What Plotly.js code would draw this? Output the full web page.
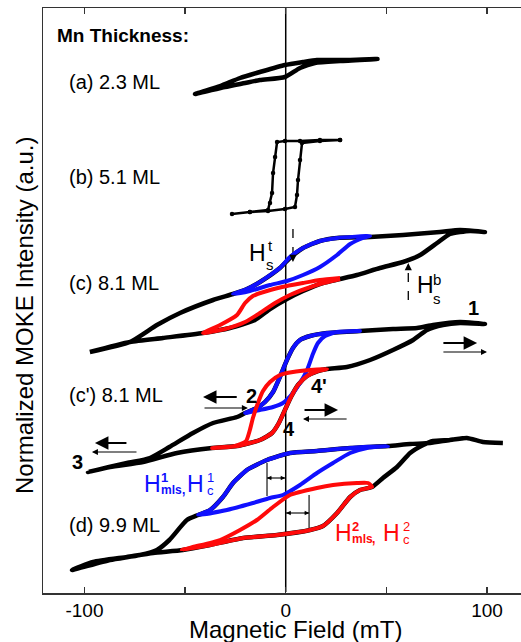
<!DOCTYPE html>
<html>
<head>
<meta charset="utf-8">
<script src="https://cdn.plot.ly/plotly-3.0.1.min.js"></script>
<style>html,body{margin:0;padding:0;background:#fff;}#chart{width:521px;height:642px;}</style>
</head>
<body>
<div id="chart"></div>
<script>
// ---- Data: Magnetic field (mT) vs normalized MOKE intensity (a.u., offset per sample) ----
// (a) 2.3 ML
const a_x = [45.6, 32.0, 15.5, 8.6, -0.4, -12.8, -22.7, -32.6, -45.1, -30.2, -20.2, -12.8, -0.4, 7.1, 14.5, 27.0, 45.6];
const a_y = [534, 533, 533, 531, 528, 521, 515, 507, 499, 506, 510, 513, 516, 525, 530, 532, 534];
// (b) 5.1 ML
const b_x = [27.0, 17.0, 7.1, -0.4, -4.3, -5.3, -6.3, -6.8, -7.8, -8.8, -17.8, -26.7, -17.8, -8.8, -0.4, 4.6, 5.6, 6.1, 7.1, 8.1, 17.0, 27.0];
const b_y = [453, 453, 452, 452, 451, 436, 420, 400, 390, 383, 381, 379, 381, 382, 384, 386, 398, 413, 433, 450, 452, 453];
// (c) 8.1 ML – full loop (black)
const c_x = [99.0, 86.6, 76.6, 58.3, 41.9, 25.5, 17.0, 8.6, 2.1, -2.9, -12.8, -19.3, -26.2, -36.1, -52.5, -64.0, -77.4, -97.3,
             -77.4, -61.0, -41.1, -27.7, -15.3, -7.8, 0.6, 8.6, 18.5, 27.0, 35.4, 46.8, 58.3, 66.8, 75.2, 81.6, 91.6, 99.0];
const c_y = [361, 363, 361, 358, 356, 355, 352, 345, 335, 325, 311, 304, 299, 293, 280, 268, 251, 241,
             251, 255, 260, 265, 273, 284, 294, 302, 310, 314, 318, 325, 331, 338, 350, 359, 362, 361];
// (c) minor loops
const cBlue_x = [41.9, 25.5, 17.0, 8.6, 2.1, -2.9, -12.8, -19.3, -26.2, -17.8, -7.8, 0.6, 8.6, 17.0, 25.5, 32.0, 38.4, 41.9];
const cBlue_y = [357, 355, 352, 345, 336, 325, 311, 304, 299, 302, 308, 312, 318, 326, 338, 349, 355, 357];
const cRed_x = [27.0, 17.0, 8.6, 0.6, -9.3, -16.3, -20.2, -24.2, -32.6, -41.1, -30.2, -20.2, -12.8, -5.3, 2.1, 9.6, 17.0, 27.0];
const cRed_y = [315, 313, 310, 307, 302, 297, 290, 278, 268, 260, 264, 271, 280, 290, 298, 304, 309, 314];
// (c') 8.1 ML – full loop (black)
const cp_x = [99.0, 86.6, 73.2, 65.3, 53.3, 36.9, 20.5, 12.1, 7.1, 3.6, 0.6, -2.9, -6.3, -10.3, -14.3, -20.2, -24.2, -36.1, -46.1, -57.8, -67.5, -78.9, -98.3,
              -87.3, -70.9, -54.0, -36.6, -24.2, -12.8, -6.8, -3.4, -0.4, 2.6, 6.1, 10.6, 16.0, 20.5, 30.4, 41.9, 53.3, 63.3, 70.2, 78.1, 86.6, 99.0];
const cp_y = [269, 271, 268, 265, 264, 262, 260, 257, 253, 245, 233, 216, 201, 191, 185, 180, 176, 170, 160, 146, 135, 130, 121,
              126, 131, 140, 145, 147, 153, 160, 170, 183, 196, 208, 217, 222, 224, 226, 233, 243, 253, 263, 268, 270, 269];
// (c') minor loops
const cpBlue_x = [36.9, 20.5, 12.1, 7.1, 3.6, 0.6, -2.9, -6.3, -10.3, -14.3, -20.2, -12.8, -6.3, -1.4, 3.6, 7.1, 10.6, 13.5, 16.0, 19.5, 25.5, 36.9];
const cpBlue_y = [262, 260, 257, 253, 245, 233, 216, 201, 191, 185, 180, 183, 186, 190, 200, 210, 223, 239, 250, 257, 261, 262];
const cpRed_x = [20.5, 12.1, 3.6, -2.9, -7.8, -11.3, -13.8, -16.3, -17.8, -19.7, -25.2, -36.6, -24.2, -12.8, -6.8, -3.4, -0.4, 2.6, 6.1, 10.6, 16.0, 20.5];
const cpRed_y = [224, 223, 221, 218, 211, 202, 190, 175, 163, 152, 147, 145, 147, 153, 160, 170, 183, 196, 208, 217, 222, 224];
// (d) 9.9 ML – full loop (black)
const d_x = [107.9, 98.0, 90.0, 81.6, 71.7, 61.8, 50.8, 32.0, 15.5, 2.1, -9.3, -19.3, -26.2, -31.2, -37.6, -43.5, -49.1, -57.8, -64.0, -72.4, -87.3, -106.2,
             -95.7, -78.9, -65.9, -51.1, -37.6, -21.2, -4.3, 12.1, 18.5, 25.5, 32.0, 36.9, 42.9, 48.3, 55.3, 61.8, 68.3, 73.2, 81.6, 90.0, 98.0, 107.9];
const d_y = [150, 151, 155, 153, 150, 149, 147, 145, 142, 140, 133, 123, 110, 96, 83, 78, 73, 53, 43, 38, 33, 23,
             31, 36, 40, 43, 48, 55, 58, 63, 67, 80, 96, 103, 106, 115, 126, 140, 148, 152, 153, 155, 151, 150];
// (d) minor loops
const dBlue_x = [50.8, 32.0, 15.5, 2.1, -9.3, -19.3, -26.2, -31.2, -37.6, -43.5, -29.2, -16.3, -7.8, -1.4, 7.1, 15.5, 23.5, 32.0, 40.4, 50.8];
const dBlue_y = [147, 145, 142, 140, 133, 123, 110, 96, 83, 78, 83, 90, 95, 98, 108, 120, 130, 140, 145, 147];
const dRed_x = [42.9, 40.9, 35.4, 23.5, 15.5, 2.1, -6.3, -14.3, -22.7, -32.6, -46.1, -51.6, -37.6, -21.2, -4.3, 12.1, 18.5, 25.5, 32.0, 36.9, 42.9];
const dRed_y = [106, 110, 110, 108, 105, 98, 86, 73, 63, 53, 46, 43, 48, 55, 58, 63, 67, 80, 96, 103, 106];

const tickVals = [-100, -50, 0, 50, 100];
const tickText = ['-100', '', '0', '', '100'];
const sampleLabels = ['(a) 2.3 ML', '(b) 5.1 ML', '(c) 8.1 ML', "(c') 8.1 ML", '(d) 9.9 ML'];
const X_RANGE = [-120.6, 116.9];
const Y_RANGE = [0, 585];

// ---- Drawing ----
const FONT = 'Liberation Sans, Arial, Helvetica, sans-serif';
const BLK = '#000000', BLUE = '#1010ff', RED = '#ff0a0a';
const PLOT_W = 478, PLOT_H = 585;
const PXU = PLOT_W / (X_RANGE[1] - X_RANGE[0]);
const PYU = PLOT_H / (Y_RANGE[1] - Y_RANGE[0]);

function tr(x, y, color, w, mk) {
  const t = {x: x, y: y, type: 'scatter', mode: mk ? 'lines+markers' : 'lines',
    line: {color: color, width: w, shape: mk ? 'linear' : 'spline', smoothing: 0.55},
    hoverinfo: 'skip', showlegend: false};
  if (mk) t.marker = {color: color, size: 4.5};
  return t;
}
function seg(x0, x1, y0, y1, w, dash) {
  return {x: [x0, x1], y: [y0, y1], type: 'scatter', mode: 'lines',
    line: {color: '#000', width: w, dash: dash || 'solid'}, hoverinfo: 'skip', showlegend: false};
}
const traces = [
  seg(0, 0, Y_RANGE[0] + 1, Y_RANGE[1], 1.5),
  seg(3.6, 3.6, 364, 336, 1.3, 'dash'),
  seg(60.9, 60.9, 293, 326, 1.3, 'dash'),
  seg(-9.3, -9.3, 130, 97, 1.1),
  seg(11.6, 11.6, 98, 63, 1.1),
  seg(-9.3, 0, 115, 115, 1.1),
  seg(0, 11.6, 80, 80, 1.1),
  tr(a_x, a_y, BLK, 4.5),
  tr(b_x, b_y, BLK, 2.5, true),
  tr(c_x, c_y, BLK, 4.5),
  tr(cp_x, cp_y, BLK, 4.5),
  tr(d_x, d_y, BLK, 4.5),
  tr(cBlue_x, cBlue_y, BLUE, 4),
  tr(cRed_x, cRed_y, RED, 4),
  tr(cpBlue_x, cpBlue_y, BLUE, 4),
  tr(cpRed_x, cpRed_y, RED, 4),
  tr(dBlue_x, dBlue_y, BLUE, 4),
  tr(dRed_x, dRed_y, RED, 4)
];

function txt(x, y, text, size, color, anchor) {
  return {x: x, y: y, xref: 'x', yref: 'y', text: text, showarrow: false,
    xanchor: anchor || 'center', yanchor: 'middle',
    font: {family: FONT, size: size, color: color || '#000'}};
}
function arr(x0, x1, y, w, s) {
  return {x: x1, y: y, ax: (x0 - x1) * PXU, ay: 0.001, xref: 'x', yref: 'y',
    text: '', showarrow: true, arrowhead: 2, arrowsize: s, arrowwidth: w,
    arrowcolor: '#000', standoff: 0};
}
function vhead(x, y, y0) {
  return {x: x, y: y, ax: 0.001, ay: (y - y0) * PYU, xref: 'x', yref: 'y', text: '', showarrow: true,
    arrowhead: 2, arrowsize: 1.2, arrowwidth: 1.2, arrowcolor: '#000', standoff: 0};
}

const labelY = [511, 416, 310, 198, 68];
const ann = [
  txt(-114.7, 558, '<b>Mn Thickness:</b>', 19, '#000', 'left')
];
sampleLabels.forEach((s, i) => ann.push(txt(-108.6, labelY[i], s, 20, '#000', 'left')));

ann.push(txt(-13.8, 340, 'H', 23), txt(-7.8, 348, 't', 15), txt(-8.0, 329, 's', 15));
ann.push(txt(69.4, 308, 'H', 23), txt(75.4, 314, 'b', 15), txt(75.0, 295, 's', 15));
ann.push(txt(93.2, 285, '<b>1</b>', 20), txt(-16.8, 197, '<b>2</b>', 20),
         txt(-103.7, 131, '<b>3</b>', 20), txt(1.8, 164, '<b>4</b>', 20), txt(16.3, 207, "<b>4'</b>", 20));
ann.push(arr(77.6, 95.1, 250, 1.8, 1.5), arr(77.6, 100.0, 241, 1.2, 1.0));
ann.push(arr(-23.6, -41.1, 196, 1.8, 1.5), arr(-41.1, -18.8, 185, 1.2, 1.0));
ann.push(arr(8.6, 26.0, 183, 1.8, 1.5), arr(31.0, 8.6, 174, 1.2, 1.0));
ann.push(arr(-78.4, -94.8, 150, 1.8, 1.5), arr(-73.4, -96.3, 141, 1.2, 1.0));
ann.push(vhead(3.6, 331, 338), vhead(60.9, 330, 323));
ann.push(arr(-6.3, -9.3, 115, 1.1, 0.8), arr(-3.3, -0.3, 115, 1.1, 0.8),
         arr(3.3, 0.3, 80, 1.1, 0.8), arr(8.6, 11.6, 80, 1.1, 0.8));
ann.push(txt(-66.2, 109, 'H', 23, BLUE), txt(-60.4, 116, '<b>1</b>', 13, BLUE),
         txt(-63.2, 103, '<b>mls</b>', 12, BLUE, 'left'), txt(-51.0, 106, ',', 19, BLUE),
         txt(-44.8, 109, 'H', 23, BLUE), txt(-37.2, 116, '1', 13, BLUE), txt(-37.2, 103, 'c', 13, BLUE));
ann.push(txt(28.7, 60, 'H', 23, RED), txt(34.5, 67, '<b>2</b>', 13, RED),
         txt(31.9, 54, '<b>mls</b>', 12, RED, 'left'), txt(43.6, 57, ',', 19, RED),
         txt(52.5, 60, 'H', 23, RED), txt(60.2, 67, '2', 13, RED), txt(60.2, 54, 'c', 13, RED));
ann.push({xref: 'paper', yref: 'paper', x: 0.529, y: -0.062, text: 'Magnetic Field (mT)', showarrow: false,
  xanchor: 'center', yanchor: 'middle', font: {family: FONT, size: 24, color: '#000'}});
ann.push({xref: 'paper', yref: 'paper', x: -0.04, y: 0.475, text: 'Normalized MOKE Intensity (a.u.)', showarrow: false,
  textangle: -90, xanchor: 'center', yanchor: 'middle', font: {family: FONT, size: 24, color: '#000'}});

const layout = {
  width: 521, height: 642,
  margin: {l: 43, r: 0, t: 8, b: 49, pad: 0},
  paper_bgcolor: '#fff', plot_bgcolor: '#fff',
  showlegend: false,
  font: {family: FONT, color: '#000'},
  xaxis: {range: X_RANGE, tickvals: tickVals, ticktext: tickText, ticks: 'inside', ticklen: 6,
    tickwidth: 1.5, tickcolor: '#333', showline: true, linecolor: '#333', linewidth: 1.5, mirror: 'ticks',
    showgrid: false, zeroline: false, showspikes: false, tickfont: {family: FONT, size: 19, color: '#000'}, fixedrange: true},
  yaxis: {range: Y_RANGE, showticklabels: false, ticks: '', showline: true, linecolor: '#333', linewidth: 1.5,
    mirror: false, showgrid: false, zeroline: false, showspikes: false, fixedrange: true},
  annotations: ann
};
Plotly.newPlot('chart', traces, layout, {displayModeBar: false, staticPlot: true});
</script>
</body>
</html>
